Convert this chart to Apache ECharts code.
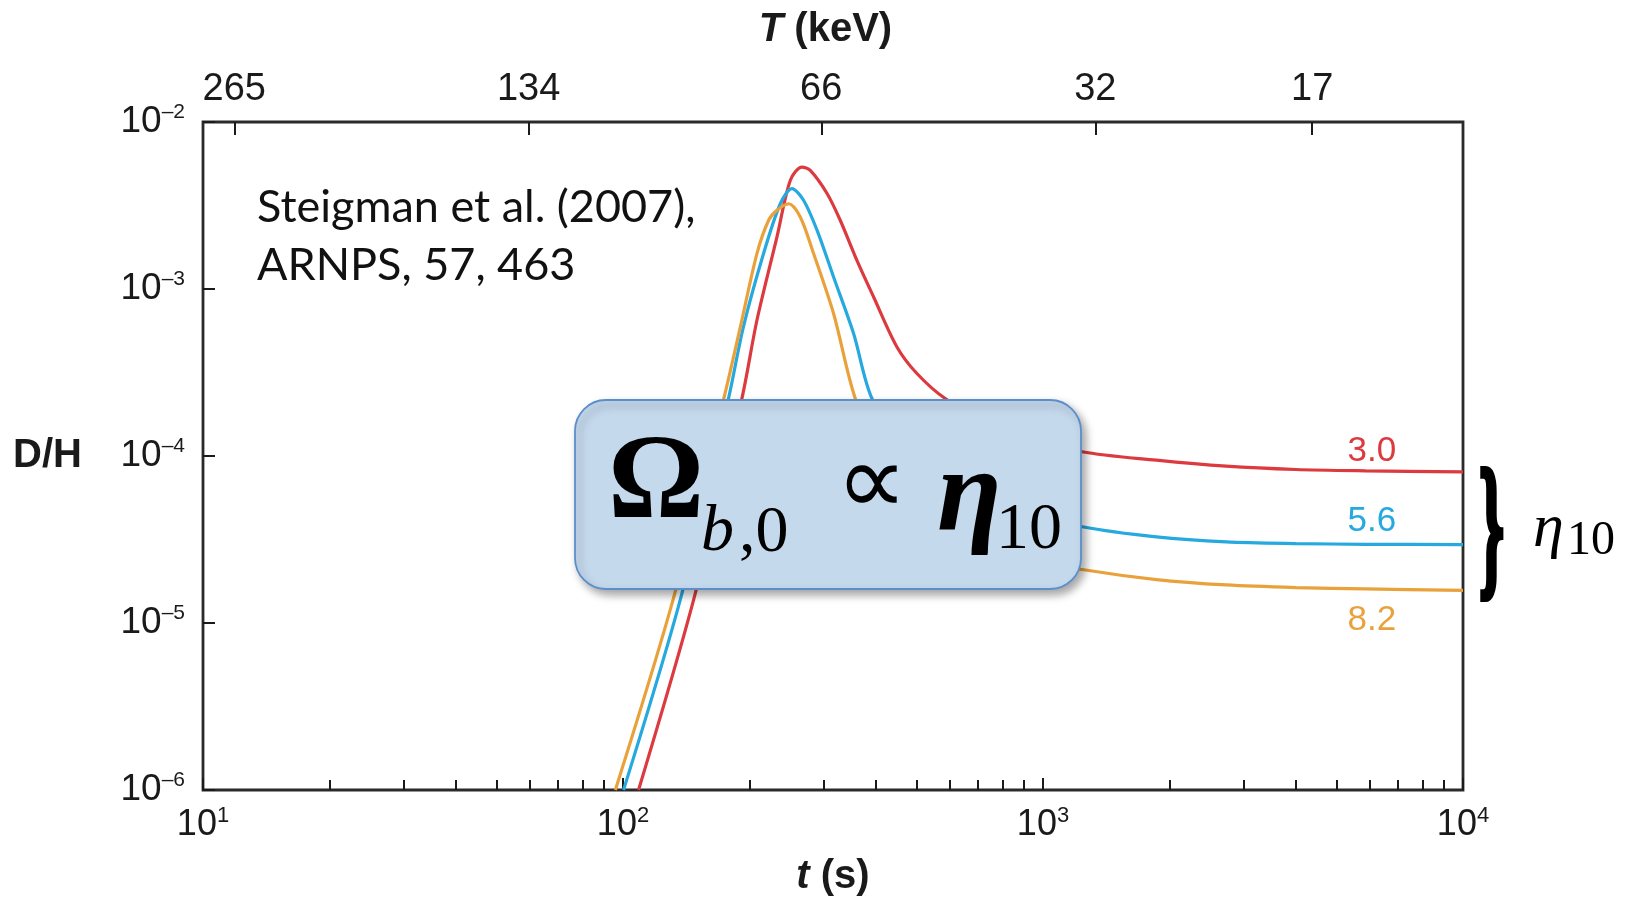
<!DOCTYPE html>
<html><head><meta charset="utf-8">
<script src="https://cdn.jsdelivr.net/npm/echarts@6/dist/echarts.min.js"></script>
<style>html,body{margin:0;padding:0;background:#fff;}#c{width:1630px;height:901px;}</style>
</head><body><div id="c"></div>
<script>
// ---- data ----
const redT = [108.9, 147.2, 191.9, 208.4, 232.6, 250.3, 266.7, 279.2, 306.1, 329, 360.3, 395.1, 449, 501, 585, 800, 1239, 1862, 2729, 4000, 5870, 10000];
const redY = [1e-6, 1.37e-5, 2.21e-4, 6.5e-4, 2.05e-3, 4.48e-3, 5.37e-3, 5.13e-3, 3.73e-3, 2.58e-3, 1.49e-3, 8.96e-4, 4.5e-4, 3.12e-4, 2.21e-4, 1.41e-4, 1.06e-4, 9.44e-5, 8.69e-5, 8.3e-5, 8.15e-5, 8.03e-5];
const blueT = [100.3, 136.8, 178.3, 193.5, 216.1, 236.9, 252.5, 269.1, 289.7, 317.2, 354, 391.5, 500, 700, 1239, 1862, 2729, 4000, 5870, 10000];
const blueY = [1e-6, 1.37e-5, 2.21e-4, 5.93e-4, 1.63e-3, 3.24e-3, 3.99e-3, 3.40e-3, 2.25e-3, 1.18e-3, 5.41e-4, 2.21e-4, 8e-5, 5.2e-5, 3.77e-5, 3.28e-5, 3.06e-5, 2.99e-5, 2.96e-5, 2.95e-5];
const orangeT = [95.9, 131.5, 173.8, 190.3, 208.4, 222.2, 232.6, 248, 264.3, 284.3, 317.2, 357.3, 450, 650, 1239, 1862, 2729, 4000, 5870, 10000];
const orangeY = [1e-6, 1.37e-5, 2.21e-4, 5.93e-4, 1.63e-3, 2.58e-3, 2.96e-3, 3.24e-3, 2.70e-3, 1.63e-3, 7.13e-4, 2.21e-4, 5.5e-5, 2.8e-5, 2.09e-5, 1.82e-5, 1.69e-5, 1.63e-5, 1.60e-5, 1.57e-5];
const etaLabels = ['3.0', '5.6', '8.2'];
const labelT = 5870;
// top axis: time (s) positions of the temperature ticks, and their labels (keV)
const topTickT = [11.87, 59.6, 296.5, 1332, 4375];
const topTickLabels = ['265', '134', '66', '32', '17'];
// minor ticks of the time axis
const minorT = [20,30,40,50,60,70,80,90,200,300,400,500,600,700,800,900,2000,3000,4000,5000,6000,7000,8000,9000];

// ---- chart ----
const SANS = "'Liberation Sans', Arial, Helvetica, sans-serif";
const SERIF = "'Liberation Serif', 'Times New Roman', serif";
const INK = '#1a1a1a';
const COLORS = ['#dc3a3e', '#25a9de', '#e9a23b'];
const topLog = topTickT.map(Math.log10);
const minorLog = minorT.map(Math.log10);
const expOf = v => Math.round(Math.log10(v));

function series(name, ts, ys, color, label, pos, dist) {
  const i = ts.indexOf(labelT);
  return {
    type: 'line', name, xAxisIndex: 0, yAxisIndex: 0,
    data: ts.map((t, k) => [t, ys[k]]),
    showSymbol: false, smooth: 0.3,
    lineStyle: { color, width: 3.2 }, itemStyle: { color },
    z: 3, clip: true,
    markPoint: {
      symbol: 'circle', symbolSize: 0, silent: true,
      data: [{ coord: [ts[i], ys[i]], label: {
        show: true, formatter: label, position: pos, distance: dist, offset: [6, 0],
        color, fontSize: 35, lineHeight: 35, fontFamily: SANS } }]
    }
  };
}

const chart = echarts.init(document.getElementById('c'), null, { renderer: 'canvas' });
const tickStyle = { color: INK, width: 2 };
const nameStyle = pad => ({ fontSize: 40, fontWeight: 'bold', fontFamily: SANS, color: INK, padding: pad,
  rich: { i: { fontSize: 40, fontStyle: 'italic', fontWeight: 'bold', fontFamily: SANS, color: INK },
          n: { fontSize: 40, fontWeight: 'bold', fontFamily: SANS, color: INK } } });
chart.setOption({
  animation: false,
  backgroundColor: '#fff',
  grid: { left: 203, right: 167, top: 122, bottom: 111, outerBoundsMode: 'none', containLabel: false,
          show: true, borderColor: '#2a2a2a', borderWidth: 2.8, backgroundColor: 'transparent' },
  xAxis: [
    { type: 'log', logBase: 10, min: 10, max: 10000, position: 'bottom',
      axisLine: { show: false },
      axisTick: { show: true, inside: true, length: 12, lineStyle: tickStyle },
      splitLine: { show: false },
      axisLabel: { margin: 15, formatter: v => '{a|10}{s|' + expOf(v) + '}',
        rich: { a: { fontSize: 36, lineHeight: 40, fontFamily: SANS, color: INK },
                s: { fontSize: 22, lineHeight: 28, verticalAlign: 'top', fontFamily: SANS, color: INK } } },
      name: '{i|t} {n|(s)}', nameLocation: 'middle', nameGap: 67, nameTextStyle: nameStyle(0)
    },
    { type: 'value', min: 1, max: 4, position: 'top',
      axisLine: { show: false },
      axisTick: { show: true, inside: true, length: 13, lineStyle: tickStyle, customValues: topLog },
      splitLine: { show: false },
      axisLabel: { margin: 13, customValues: topLog, fontSize: 38, fontFamily: SANS, color: INK,
        formatter: v => { let b = 0; topLog.forEach((x, k) => { if (Math.abs(x - v) < Math.abs(topLog[b] - v)) b = k; }); return topTickLabels[b]; } },
      name: '{i|T} {n|(keV)}', nameLocation: 'middle', nameGap: 72, nameTextStyle: nameStyle([0, 15, 0, 0])
    },
    { type: 'value', min: 1, max: 4, position: 'bottom',
      axisLine: { show: false }, splitLine: { show: false }, axisLabel: { show: false },
      axisTick: { show: true, inside: true, length: 10, lineStyle: tickStyle, customValues: minorLog }
    }
  ],
  yAxis: [
    { type: 'log', logBase: 10, min: 1e-6, max: 1e-2, position: 'left',
      axisLine: { show: false },
      axisTick: { show: true, inside: true, length: 12, lineStyle: tickStyle },
      splitLine: { show: false },
      axisLabel: { margin: 18, formatter: v => '{a|10}{s|\u2013' + Math.abs(expOf(v)) + '}',
        rich: { a: { fontSize: 37, lineHeight: 40, fontFamily: SANS, color: INK },
                s: { fontSize: 21, lineHeight: 26, verticalAlign: 'top', fontFamily: SANS, color: INK } } },
      name: 'D/H', nameLocation: 'middle', nameRotate: 0, nameGap: 121,
      nameTextStyle: { fontSize: 40, fontWeight: 'bold', fontFamily: SANS, color: INK }
    }
  ],
  series: [
    series('3.0', redT, redY, COLORS[0], etaLabels[0], 'top', 2),
    series('5.6', blueT, blueY, COLORS[1], etaLabels[1], 'top', 5),
    series('8.2', orangeT, orangeY, COLORS[2], etaLabels[2], 'bottom', 14)
  ],
  graphic: [
    { type: 'text', left: 257, top: 178, z: 50,
      style: { text: 'Steigman et al. (2007),\nARNPS, 57, 463', font: '45px Lato, "Open Sans", sans-serif', lineHeight: 58, fill: '#111' } },
    { type: 'rect', z: 100, shape: { x: 575, y: 400, width: 506, height: 189, r: 31 },
      style: { fill: '#c5d9ed', stroke: '#5a8fcb', lineWidth: 1.8, shadowBlur: 8, shadowOffsetX: 4, shadowOffsetY: 5, shadowColor: 'rgba(0,0,0,0.35)' } },
    { type: 'text', z: 101, x: 608, y: 486, style: { text: '\u03A9', font: 'bold 120px ' + SERIF, fill: '#000', verticalAlign: 'middle' } },
    { type: 'text', z: 101, x: 701, y: 533, style: { text: 'b', font: 'italic 66px ' + SERIF, fill: '#000', verticalAlign: 'middle' } },
    { type: 'text', z: 101, x: 739, y: 534, style: { text: ',0', font: '66px ' + SERIF, fill: '#000', verticalAlign: 'middle' } },
    { type: 'text', z: 101, x: 836, y: 488, style: { text: '\u221D', font: '100px ' + SERIF, fill: '#000', verticalAlign: 'middle' } },
    { type: 'text', z: 101, x: 937, y: 500, style: { text: '\u03B7', font: 'italic bold 118px ' + SERIF, fill: '#000', verticalAlign: 'middle' } },
    { type: 'text', z: 101, x: 996, y: 531, style: { text: '10', font: '66px ' + SERIF, fill: '#000', verticalAlign: 'middle' } },
    { type: 'text', z: 101, x: 1479, y: 537, scaleY: 2.45, style: { text: '}', font: 'bold 64px ' + SERIF, fill: '#000', stroke: '#000', lineWidth: 2.5, verticalAlign: 'middle' } },
    { type: 'text', z: 101, x: 1533, y: 530, style: { text: '\u03B7', font: 'italic 62px ' + SERIF, fill: '#000', verticalAlign: 'middle' } },
    { type: 'text', z: 101, x: 1567, y: 541, style: { text: '10', font: '48px ' + SERIF, fill: '#000', verticalAlign: 'middle' } }
  ]
});
</script>
</body></html>
